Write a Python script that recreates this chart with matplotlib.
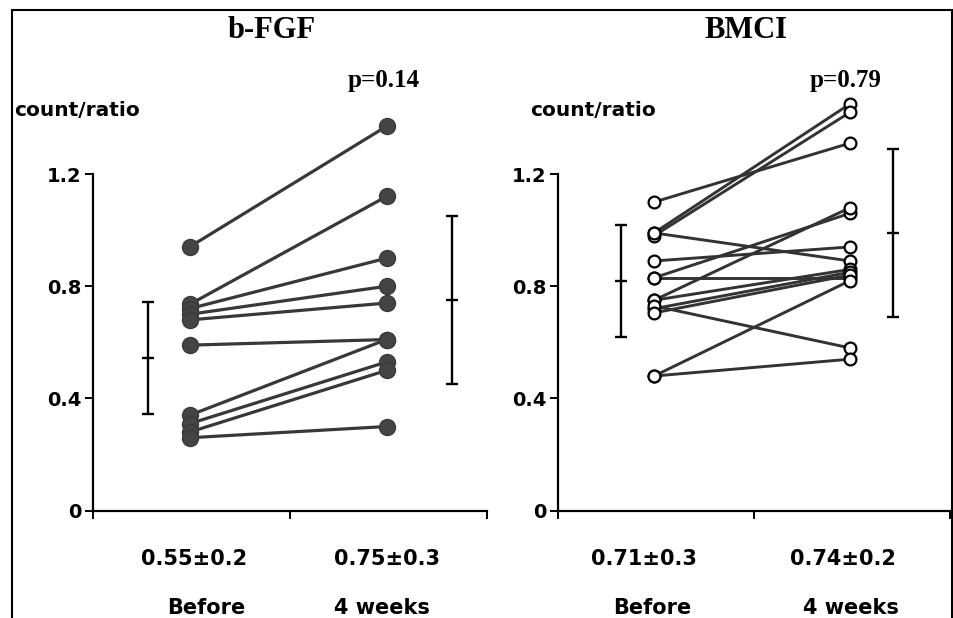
import numpy as np
import matplotlib.pyplot as plt
from matplotlib.patches import Rectangle

# paired values: (before, 4 weeks)
fgf_before = [0.94, 0.735, 0.72, 0.70, 0.68, 0.59, 0.34, 0.31, 0.28, 0.26]
fgf_after = [1.37, 1.12, 0.90, 0.80, 0.74, 0.61, 0.61, 0.53, 0.50, 0.30]
fgf_mean = [0.545, 0.75]
fgf_sd = [0.2, 0.3]
fgf_summary = ["0.55\u00b10.2", "0.75\u00b10.3"]
fgf_p = "p=0.14"

bmci_before = [1.10, 0.99, 0.98, 0.99, 0.89, 0.83, 0.83, 0.75, 0.75, 0.72, 0.73, 0.705, 0.48, 0.48]
bmci_after = [1.31, 1.45, 1.42, 0.89, 0.94, 1.06, 0.83, 1.08, 0.86, 0.85, 0.58, 0.84, 0.82, 0.54]
bmci_mean = [0.82, 0.99]
bmci_sd = [0.2, 0.3]
bmci_summary = ["0.71\u00b10.3", "0.74\u00b10.2"]
bmci_p = "p=0.79"

groups = ["Before", "4 weeks"]
yticks = [0, 0.4, 0.8, 1.2]
ytick_labels = ["0", "0.4", "0.8", "1.2"]

W, H = 954, 618
fig = plt.figure(figsize=(W / 100, H / 100), dpi=100)
fig.patch.set_facecolor("white")

def fx(x):
    return x / W

def fy(y):
    return 1 - y / H

sans = "DejaVu Sans"
serif = "Liberation Serif"


def panel(rect, before, after, mean, sd, err_x, filled):
    ax = fig.add_axes(rect)
    ax.set_xlim(0, 2)
    ax.set_ylim(0, 1.2)
    for s in ["top", "right"]:
        ax.spines[s].set_visible(False)
    for s in ["left", "bottom"]:
        ax.spines[s].set_linewidth(1.6)
    ax.set_xticks([0, 1, 2])
    ax.set_xticklabels([])
    ax.set_yticks(yticks)
    ax.set_yticklabels(ytick_labels, fontfamily=sans, fontweight="bold", fontsize=14)
    ax.tick_params(axis="both", direction="out", length=6, width=1.4, pad=2)

    xb, xa = 0.49, 1.49
    for b, a in zip(before, after):
        if filled:
            ax.plot([xb, xa], [b, a], color="#383838", lw=2.3, marker="o", ms=11.5,
                    mfc="#444444", mec="#3a3a3a", clip_on=False, zorder=3)
        else:
            ax.plot([xb, xa], [b, a], color="#333333", lw=2.1, clip_on=False, zorder=2)
    if not filled:
        ax.plot([xb] * len(before), before, "o", ms=8.5, mfc="white", mec="black",
                mew=1.6, clip_on=False, zorder=4)
        ax.plot([xa] * len(after), after, "o", ms=8.5, mfc="white", mec="black",
                mew=1.6, clip_on=False, zorder=4)

    ax.errorbar(err_x, mean, yerr=sd, fmt="none", ecolor="black", elinewidth=1.7,
                capsize=4.5, capthick=1.7, clip_on=False)
    ax.plot(err_x, mean, "_", color="black", ms=9, mew=1.7, clip_on=False)
    return ax


ax1 = panel([fx(93), fy(510.7), fx(394), (510.7 - 174) / H],
            fgf_before, fgf_after, fgf_mean, fgf_sd, [0.28, 1.82], True)
ax2 = panel([fx(558), fy(510.7), fx(392), (510.7 - 174) / H],
            bmci_before, bmci_after, bmci_mean, bmci_sd, [0.32, 1.71], False)

# titles and p values
fig.text(fx(272), fy(30), "b-FGF", family=serif, weight="bold", fontsize=22,
         ha="center", va="center")
fig.text(fx(746), fy(30), "BMCI", family=serif, weight="bold", fontsize=22,
         ha="center", va="center")
fig.text(fx(384), fy(80), fgf_p, family=serif, weight="bold", fontsize=18,
         ha="center", va="center")
fig.text(fx(846), fy(80), bmci_p, family=serif, weight="bold", fontsize=18,
         ha="center", va="center")

# y labels
fig.text(fx(14), fy(110), "count/ratio", family=sans, weight="bold", fontsize=14.5,
         ha="left", va="center")
fig.text(fx(530), fy(110), "count/ratio", family=sans, weight="bold", fontsize=14.5,
         ha="left", va="center")

# summary rows under the axes
for xs, summ in [([194, 387], fgf_summary), ([644, 843], bmci_summary)]:
    for x, s in zip(xs, summ):
        fig.text(fx(x), fy(559), s, family=sans, weight="bold", fontsize=15,
                 ha="center", va="center")
for xs in [[206, 382], [652, 851]]:
    for x, g in zip(xs, groups):
        fig.text(fx(x), fy(608), g, family=sans, weight="bold", fontsize=15,
                 ha="center", va="center")

# outer frame of the figure
fig.add_artist(Rectangle((fx(12), -0.1), fx(952 - 12), 1.1 - 10 / H,
                         transform=fig.transFigure, fill=False, lw=1.5,
                         edgecolor="black"))

fig.savefig("out.png", dpi=100)
